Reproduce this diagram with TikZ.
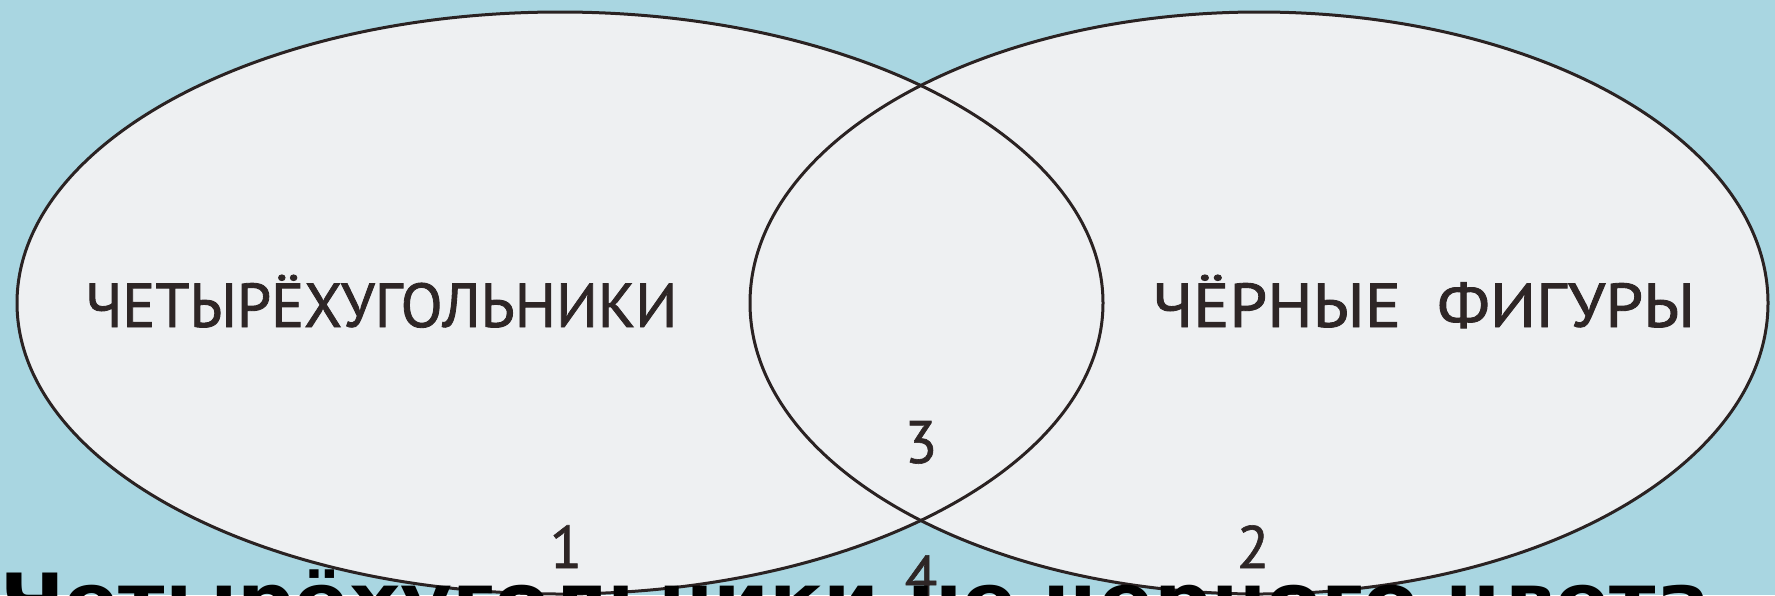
\documentclass[tikz,border=0pt]{standalone}
\usepackage{fontspec}
\usepackage{graphicx}
\setmainfont{PT Sans}
\newfontfamily\boldcap{DejaVu Sans}[BoldFont={DejaVu Sans Bold}]
\definecolor{bgblue}{HTML}{A9D6E1}
\definecolor{setfill}{HTML}{EEF0F2}
\definecolor{inkline}{HTML}{2A2222}
\definecolor{inktext}{HTML}{2E2626}
\tikzset{
  setline/.style={draw=inkline, line width=3pt},
  setlabel/.style={inner sep=0pt, anchor=base west, text=inktext},
  numlabel/.style={inner sep=0pt, anchor=base, text=inktext, font=\fontsize{60}{60}\selectfont\addfontfeature{FakeBold=1}},
}
\begin{document}
\begin{tikzpicture}[x=1pt,y=-1pt]
\useasboundingbox (0,0) rectangle (1775,595);
\fill[bgblue] (0,0) rectangle (1775,595);
\begin{scope}
\clip (0,0) rectangle (1775,595);
\fill[setfill] (560,303) ellipse [x radius=543, y radius=291];
\fill[setfill] (1259,303) ellipse [x radius=509, y radius=291];
\draw[setline] (560,303) ellipse [x radius=543, y radius=291];
\draw[setline] (1259,303) ellipse [x radius=509, y radius=291];
\node[setlabel] (quad) at (85,327) {\resizebox{592pt}{\height}{\fontsize{62}{62}\selectfont\addfontfeature{FakeBold=1.4}ЧЕТЫРЁХУГОЛЬНИКИ}};
\node[setlabel] (black) at (1152,327) {\resizebox{543pt}{\height}{\fontsize{62}{62}\selectfont\addfontfeature{FakeBold=1.4}ЧЁРНЫЕ\ \ ФИГУРЫ}};
\node[numlabel] (n3) at (921,463) {3};
\node[numlabel] (n1) at (566,568) {1};
\node[numlabel] (n2) at (1253,568) {2};
\node[numlabel] (n4) at (921,598) {4};
\node[inner sep=0pt, anchor=base west, text=black] (caption) at (0,625) {\resizebox{1710pt}{\height}{\boldcap\bfseries\fontsize{72}{72}\selectfont Четырёхугольники не черного цвета}};
\end{scope}
\end{tikzpicture}
\end{document}
